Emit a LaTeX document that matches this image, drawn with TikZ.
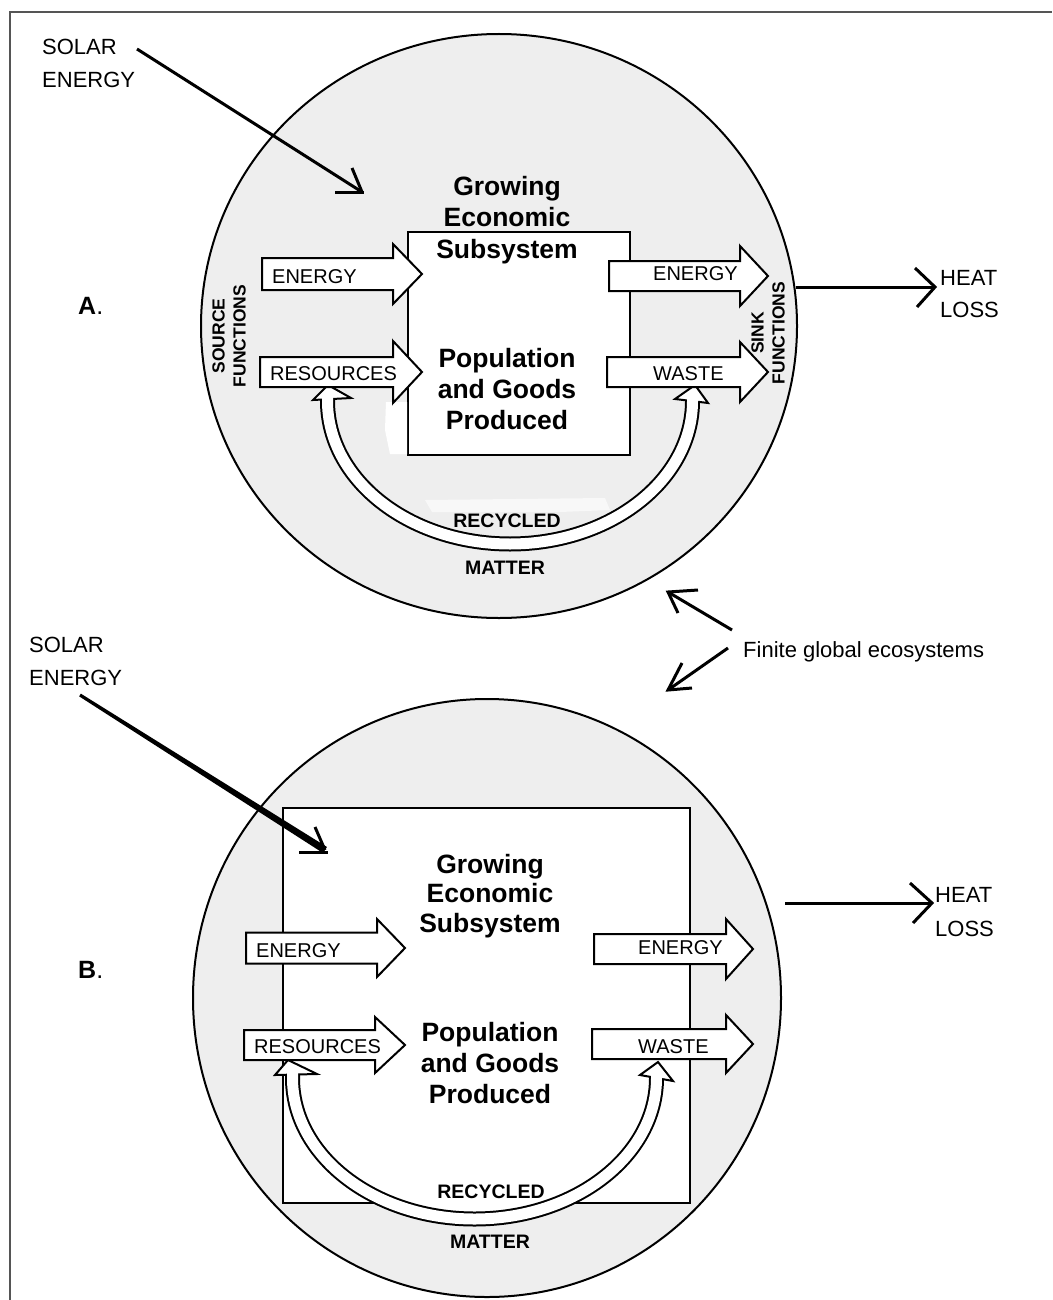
\documentclass[tikz,border=0pt]{standalone}
\usepackage{fontspec}
\setmainfont{Liberation Sans}
\definecolor{ecogray}{HTML}{EEEEEE}
\definecolor{framecol}{HTML}{555555}
\newcommand\blkarrow[6]{\draw[blk] (#1,#2-#3) -- (#4,#2-#3) -- (#4,#2-#5) -- (#6,#2) -- (#4,#2+#5) -- (#4,#2+#3) -- (#1,#2+#3) -- cycle;}
\tikzset{
  lbl/.style={inner sep=0pt, font=\fontsize{20}{24}\selectfont, anchor=base west},
  big/.style={inner sep=0pt, font=\fontsize{26.5}{30}\selectfont\bfseries, anchor=base},
  reg/.style={inner sep=0pt, font=\fontsize{22}{26}\selectfont, anchor=base west},
  rec/.style={inner sep=0pt, font=\fontsize{19.5}{24}\selectfont\bfseries, anchor=base},
  func/.style={inner sep=0pt, font=\fontsize{17.5}{21}\selectfont\bfseries, align=center, rotate=90},
  panel/.style={inner sep=0pt, font=\fontsize{25}{30}\selectfont, anchor=base west},
  blk/.style={draw=black, fill=white, line width=2pt, line join=miter},
  eco/.style={draw=black, fill=ecogray, line width=2pt},
  boxstyle/.style={draw=black, fill=white, line width=2pt},
  thinarr/.style={line width=3pt},
  headstyle/.style={draw=black, fill=white, line width=2pt, line join=miter},
}
\begin{document}
\begin{tikzpicture}[x=1pt,y=-1pt]
\useasboundingbox (0,0) rectangle (1052,1300);
% frame
\draw[framecol, line width=1.6pt] (10,1300) -- (10,12) -- (1052,12);

% ---------------- Panel A ----------------
\draw[eco] (499,326) ellipse[x radius=298, y radius=292];
\draw[boxstyle] (408,232) rectangle (630,455);
% white patches
\fill[white] (386,402) -- (407,402) -- (407,454) -- (390,454) -- (385,430) -- cycle;
\fill[white!60!ecogray] (425,500) -- (605,498) -- (610,510) -- (560,512) -- (432,512) -- cycle;
% recycled arrow A
\draw[line width=15pt] (327.5,396) -- (327.5,401) arc[start angle=180, end angle=0, x radius=182.5, y radius=143] -- (692.5,396);
\draw[headstyle] (328,385) -- (313,400) -- (351,398) -- cycle;
\draw[headstyle] (695,385) -- (675,399) -- (708,403) -- cycle;
\draw[white, line width=11pt] (327.5,396) -- (327.5,401) arc[start angle=180, end angle=0, x radius=182.5, y radius=143] -- (692.5,396);
% block arrows A
\blkarrow{262}{274}{16}{393}{30}{422}
\blkarrow{260}{372}{15}{393}{31}{422}
\blkarrow{609}{276}{15}{740}{30}{768}
\blkarrow{607}{372}{15}{740}{30}{768}
\node[lbl] (enAin) at (272,283) {ENERGY};
\node[lbl] (resA) at (270,380) {RESOURCES};
\node[lbl] (enAout) at (653,280) {ENERGY};
\node[lbl] (wasA) at (653,380) {WASTE};
% texts A
\node[big] (gA1) at (507,196) {Growing};
\node[big] (gA2) at (507,226) {Economic};
\node[big] (gA3) at (507,258) {Subsystem};
\node[big] (pA1) at (507,367) {Population};
\node[big] (pA2) at (507,398) {and Goods};
\node[big] (pA3) at (507,429) {Produced};
\node[rec] (recA) at (507,527) {RECYCLED};
\node[rec] (matA) at (505,574) {MATTER};
\node[func] (srcA) at (229,336) {SOURCE\\FUNCTIONS};
\node[func] (snkA) at (768,333) {SINK\\FUNCTIONS};
\node[panel] (labA) at (78,314) {\textbf{A}.};
\node[reg] (solA1) at (42,55) {SOLAR};
\node[reg] (solA2) at (42,88) {ENERGY};
\node[reg] (heatA1) at (940,285) {HEAT};
\node[reg] (heatA2) at (940,317) {LOSS};
% solar arrow A
\coordinate (sA1) at (137,49);
\coordinate (sA2) at (362,192);
\coordinate (sA3) at (352,168);
\coordinate (sA4) at (335,193);
\coordinate (sA5) at (364,193);
\draw[thinarr] (sA1) -- (sA2);
\draw[thinarr] (sA3) -- (sA2);
\draw[thinarr] (sA4) -- (sA5);
% heat arrow A
\coordinate (hA1) at (796,287);
\coordinate (hA2) at (935,287);
\draw[thinarr] (hA1) -- (hA2);
\draw[thinarr, line join=miter] (915,268) -- (hA2) -- (917,307);

% ---------------- Finite global ecosystems ----------------
\node[reg] (fin) at (743,657) {Finite global ecosystems};
\coordinate (fu1) at (732,630);
\coordinate (fu2) at (668,592);
\coordinate (fl1) at (728,648);
\coordinate (fl2) at (668,690);
\draw[thinarr] (fu1) -- (fu2);
\draw[thinarr, line join=miter] (698,590) -- (fu2) -- (678,613);
\draw[thinarr] (fl1) -- (fl2);
\draw[thinarr, line join=miter] (682,663) -- (fl2) -- (692,688);

% ---------------- Panel B ----------------
\draw[eco] (487,998) ellipse[x radius=294, y radius=299];
\draw[boxstyle] (283,808) rectangle (690,1203);
% recycled arrow B
\fill[white] (299.5,1078) arc[start angle=180, end angle=0, x radius=175, y radius=134] -- cycle;
\draw[line width=15pt] (292.5,1073) -- (292.5,1078) arc[start angle=180, end angle=0, x radius=182, y radius=141] -- (656.5,1073);
\draw[headstyle] (288,1060) -- (275,1075) -- (317,1074) -- cycle;
\draw[headstyle] (658,1062) -- (640,1075) -- (673,1081) -- cycle;
\draw[white, line width=11pt] (292.5,1073) -- (292.5,1078) arc[start angle=180, end angle=0, x radius=182, y radius=141] -- (656.5,1073);
% block arrows B
\blkarrow{246}{948}{15.5}{377}{29}{405}
\blkarrow{244}{1045}{15}{375}{28}{405}
\blkarrow{594}{949}{15}{726}{30}{753}
\blkarrow{592}{1044}{15}{726}{29}{753}
\node[lbl] (enBin) at (256,957) {ENERGY};
\node[lbl] (resB) at (254,1053) {RESOURCES};
\node[lbl] (enBout) at (638,954) {ENERGY};
\node[lbl] (wasB) at (638,1053) {WASTE};
% texts B
\node[big] (gB1) at (490,873) {Growing};
\node[big] (gB2) at (490,902) {Economic};
\node[big] (gB3) at (490,932) {Subsystem};
\node[big] (pB1) at (490,1041) {Population};
\node[big] (pB2) at (490,1072) {and Goods};
\node[big] (pB3) at (490,1103) {Produced};
\node[rec] (recB) at (491,1198) {RECYCLED};
\node[rec] (matB) at (490,1248) {MATTER};
\node[panel] (labB) at (78,978) {\textbf{B}.};
\node[reg] (solB1) at (29,652) {SOLAR};
\node[reg] (solB2) at (29,685) {ENERGY};
\node[reg] (heatB1) at (935,902) {HEAT};
\node[reg] (heatB2) at (935,936) {LOSS};
% solar arrow B (tapered)
\coordinate (sB1) at (80,695);
\coordinate (sB2) at (325,850);
\fill (79.14,696.35) -- (80.86,693.65) -- (326.93,846.96) -- (323.07,853.04) -- cycle;
\coordinate (sB3) at (315,827);
\coordinate (sB4) at (299,852);
\coordinate (sB5) at (328,852);
\draw[thinarr] (sB3) -- (sB2);
\draw[thinarr] (sB4) -- (sB5);
% heat arrow B
\coordinate (hB1) at (785,903);
\coordinate (hB2) at (932,903);
\draw[thinarr] (hB1) -- (hB2);
\draw[thinarr, line join=miter] (910,883) -- (hB2) -- (913,923);
\end{tikzpicture}
\end{document}
